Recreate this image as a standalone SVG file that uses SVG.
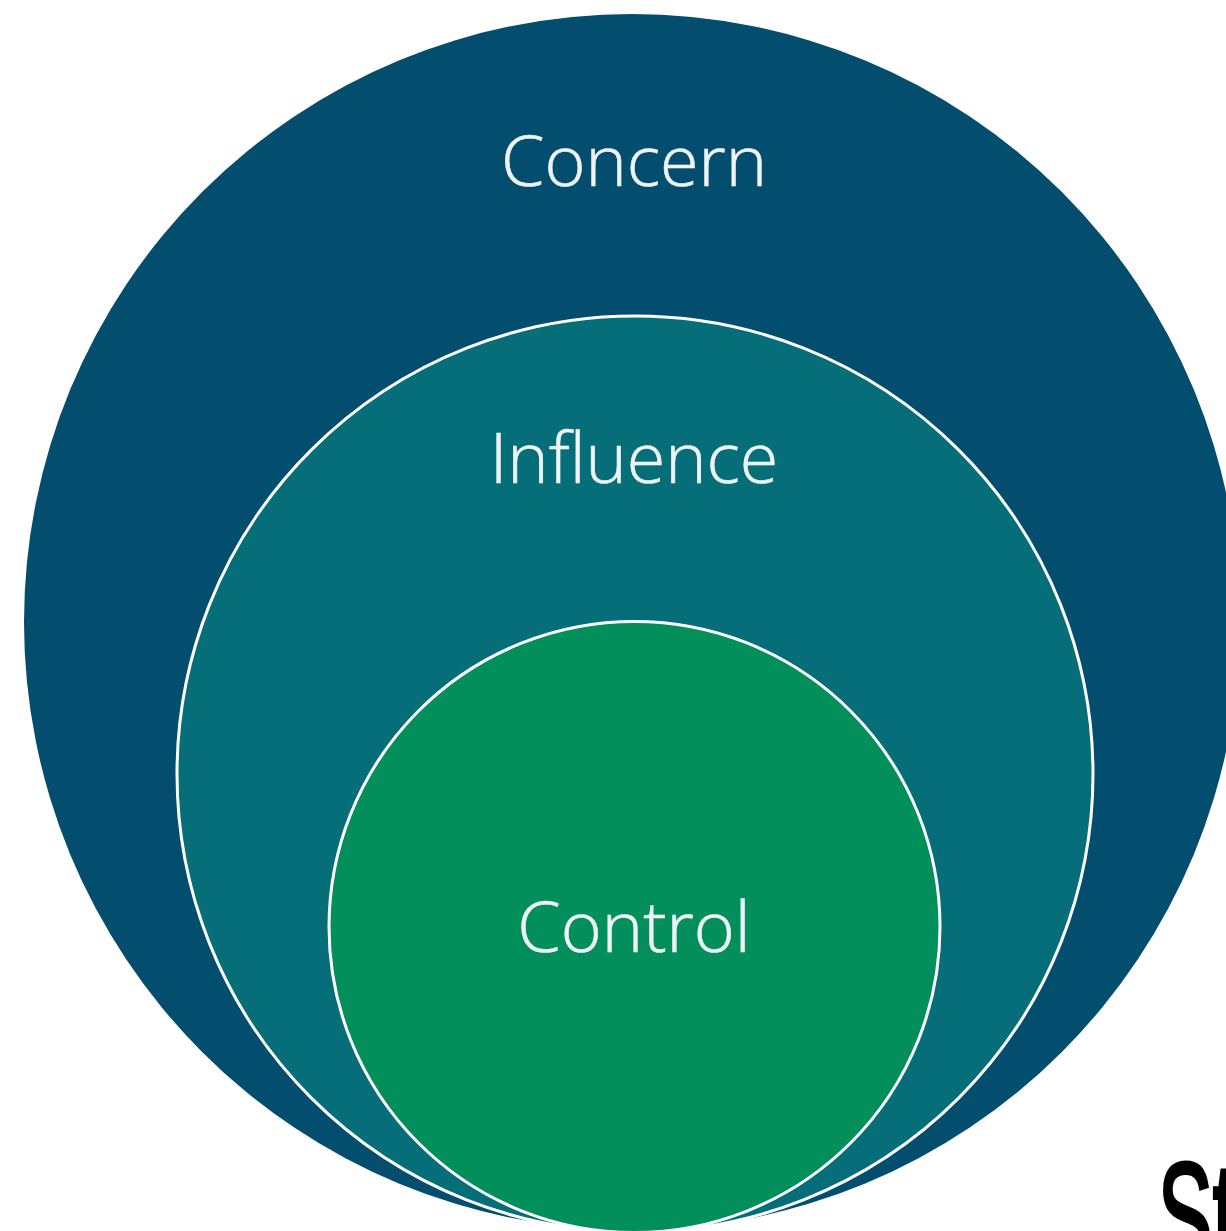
<svg xmlns="http://www.w3.org/2000/svg" width="1226" height="1231" viewBox="0 0 1226 1231">
<style>
.lbl{font-family:"Open Sans","Noto Sans",sans-serif;font-weight:300;fill:#eef4f6;stroke:#eef4f6;stroke-width:0.6;text-anchor:middle;font-size:70px}
.ring{stroke:#ffffff;stroke-width:3}
</style>
<rect width="1226" height="1231" fill="#ffffff"/>
<g id="concern">
<circle cx="632" cy="622" r="608" fill="#034d6f"/>
<text class="lbl" x="634" y="186">Concern</text>
</g>
<g id="influence">
<circle class="ring" cx="635" cy="774" r="458" fill="#066e78"/>
<text class="lbl" x="634" y="483">Influence</text>
</g>
<g id="control">
<circle class="ring" cx="634.5" cy="927" r="305.5" fill="#038f5c"/>
<text class="lbl" x="634" y="952">Control</text>
</g>
<g id="connectors"></g>
<text x="2105" y="1268" transform="scale(0.55,1)" font-family="Liberation Sans, sans-serif" font-size="150" fill="#000000" stroke="#000000" stroke-width="4">St</text>
</svg>
